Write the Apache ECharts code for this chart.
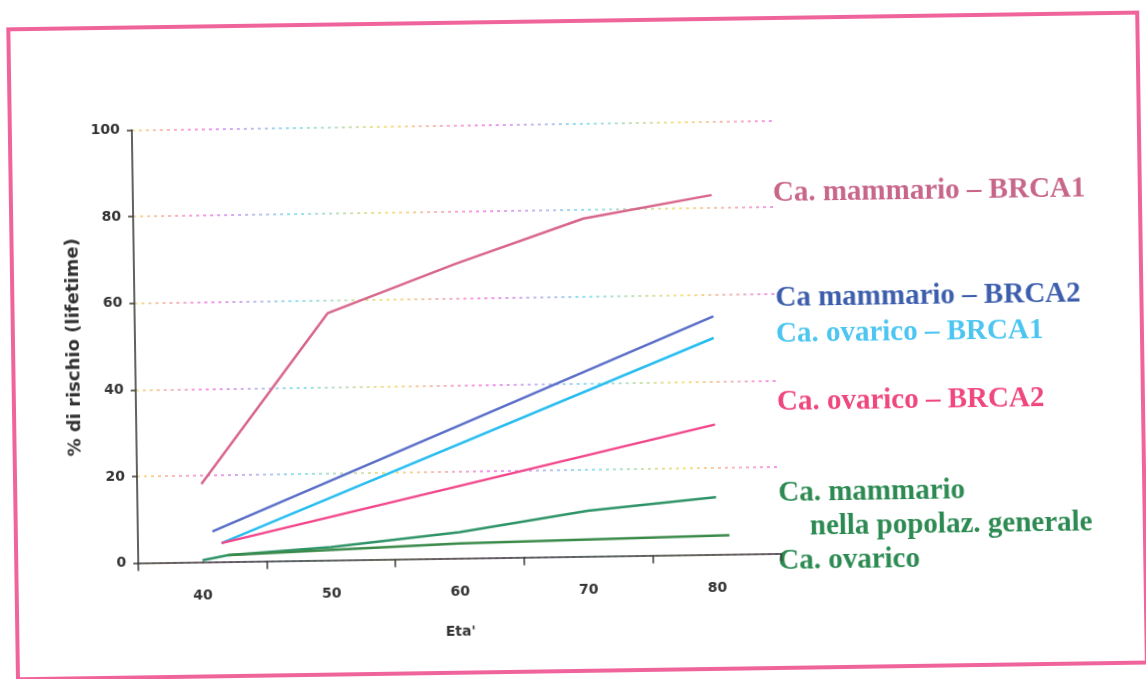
<!DOCTYPE html>
<html>
<head>
<meta charset="utf-8">
<title>Rischio lifetime</title>
<script src="https://cdn.jsdelivr.net/npm/echarts@6/dist/echarts.min.js"></script>
<style>
  html, body { margin: 0; padding: 0; background: #fff; }
  #chart { width: 1146px; height: 679px; transform: rotate(-0.85deg); }
</style>
</head>
<body>
<div id="chart"></div>
<script>
// categorie asse x (eta') e dati [eta, % rischio]
var ages = ['40', '50', '60', '70', '80'];
var brca1Mammario = [[40, 18], [50, 57], [60, 68], [70, 78], [80, 83]];
var brca2Mammario = [[40.8, 7], [80, 55]];
var brca1Ovarico = [[41.5, 4.3], [80, 50]];
var brca2Ovarico = [[41.5, 4.3], [80, 30]];
var mammarioGenerale = [[40, 0.4], [42, 1.5], [50, 3], [60, 6], [70, 10.5], [80, 13.2]];
var ovaricoGenerale = [[42, 1.5], [60, 3.4], [81, 4.4]];

var myChart = echarts.init(document.getElementById('chart'));

// griglia tratteggiata con i colori "sporchi" della scansione
var gridColor = new echarts.graphic.LinearGradient(0, 0, 1, 0, [
    { offset: 0, color: '#f5d860' },
    { offset: 0.12, color: '#f070e8' },
    { offset: 0.25, color: '#70d8f0' },
    { offset: 0.4, color: '#f5d860' },
    { offset: 0.55, color: '#f070e8' },
    { offset: 0.7, color: '#70d8f0' },
    { offset: 0.85, color: '#f5d860' },
    { offset: 1, color: '#f070e8' }
]);

var serif = 'bold 29px "Liberation Serif", "DejaVu Serif", serif';

function label(text, x, y, color) {
    return {
        type: 'text',
        x: x,
        y: y,
        style: { text: text, font: serif, fill: color, verticalAlign: 'middle' }
    };
}

function serie(name, data, color) {
    return {
        name: name,
        type: 'line',
        xAxisIndex: 1,
        data: data,
        symbol: 'none',
        lineStyle: { color: color, width: 2.5 }
    };
}

var option = {
    backgroundColor: '#fff',
    animation: false,
    grid: { left: 135, right: 368, top: 123.5, bottom: 122.5 },
    xAxis: [
        {
            type: 'category',
            data: ages,
            boundaryGap: true,
            name: "Eta'",
            nameLocation: 'middle',
            nameGap: 67,
            nameTextStyle: { color: '#333', fontFamily: 'DejaVu Sans', fontWeight: 'bold', fontSize: 14 },
            axisLine: { lineStyle: { color: '#3a3a3a', width: 1.6 } },
            axisTick: { show: true, length: 8, lineStyle: { color: '#3a3a3a', width: 1.5 } },
            axisLabel: { color: '#333', fontFamily: 'DejaVu Sans', fontWeight: 'bold', fontSize: 14, margin: 27 },
            splitLine: { show: false }
        },
        {
            type: 'value',
            min: 35,
            max: 85,
            show: false
        }
    ],
    yAxis: {
        type: 'value',
        min: 0,
        max: 100,
        interval: 20,
        name: '% di rischio (lifetime)',
        nameLocation: 'middle',
        nameGap: 52,
        nameTextStyle: { color: '#333', fontFamily: 'DejaVu Sans', fontWeight: 'bold', fontSize: 18 },
        axisLine: { show: true, lineStyle: { color: '#3a3a3a', width: 1.6 } },
        axisTick: { show: true, length: 5, lineStyle: { color: '#3a3a3a', width: 1.5 } },
        axisLabel: { color: '#333', fontFamily: 'DejaVu Sans', fontWeight: 'bold', fontSize: 14, margin: 12 },
        splitLine: { show: true, lineStyle: { color: gridColor, width: 1.6, type: [3, 4] } }
    },
    series: [
        serie('Ca. mammario - BRCA1', brca1Mammario, '#d8668a'),
        serie('Ca mammario - BRCA2', brca2Mammario, '#5a6ec8'),
        serie('Ca. ovarico - BRCA1', brca1Ovarico, '#28bdf0'),
        serie('Ca. ovarico - BRCA2', brca2Ovarico, '#f2468a'),
        serie('Ca. mammario popolaz. generale', mammarioGenerale, '#2e9468'),
        serie('Ca. ovarico popolaz. generale', ovaricoGenerale, '#3a8a4a')
    ],
    graphic: [
        {
            type: 'rect',
            z: -10,
            shape: { x: 13, y: 21, width: 1129, height: 650 },
            style: { fill: 'none', stroke: '#f0649c', lineWidth: 4 }
        },
        label('Ca. mammario \u2013 BRCA1', 775, 197, '#c8668a'),
        label('Ca mammario \u2013 BRCA2', 776, 302, '#3c5eac'),
        label('Ca. ovarico \u2013 BRCA1', 776, 338, '#4cc6f0'),
        label('Ca. ovarico \u2013 BRCA2', 776, 406, '#f0487e'),
        label('Ca. mammario', 776, 497, '#2c8a52'),
        label('nella popolaz. generale', 807, 531, '#2c8a52'),
        label('Ca. ovarico', 775, 565, '#2c8a52')
    ]
};

myChart.setOption(option);

window.addEventListener('resize', function() {
    myChart.resize();
});
</script>
</body>
</html>
